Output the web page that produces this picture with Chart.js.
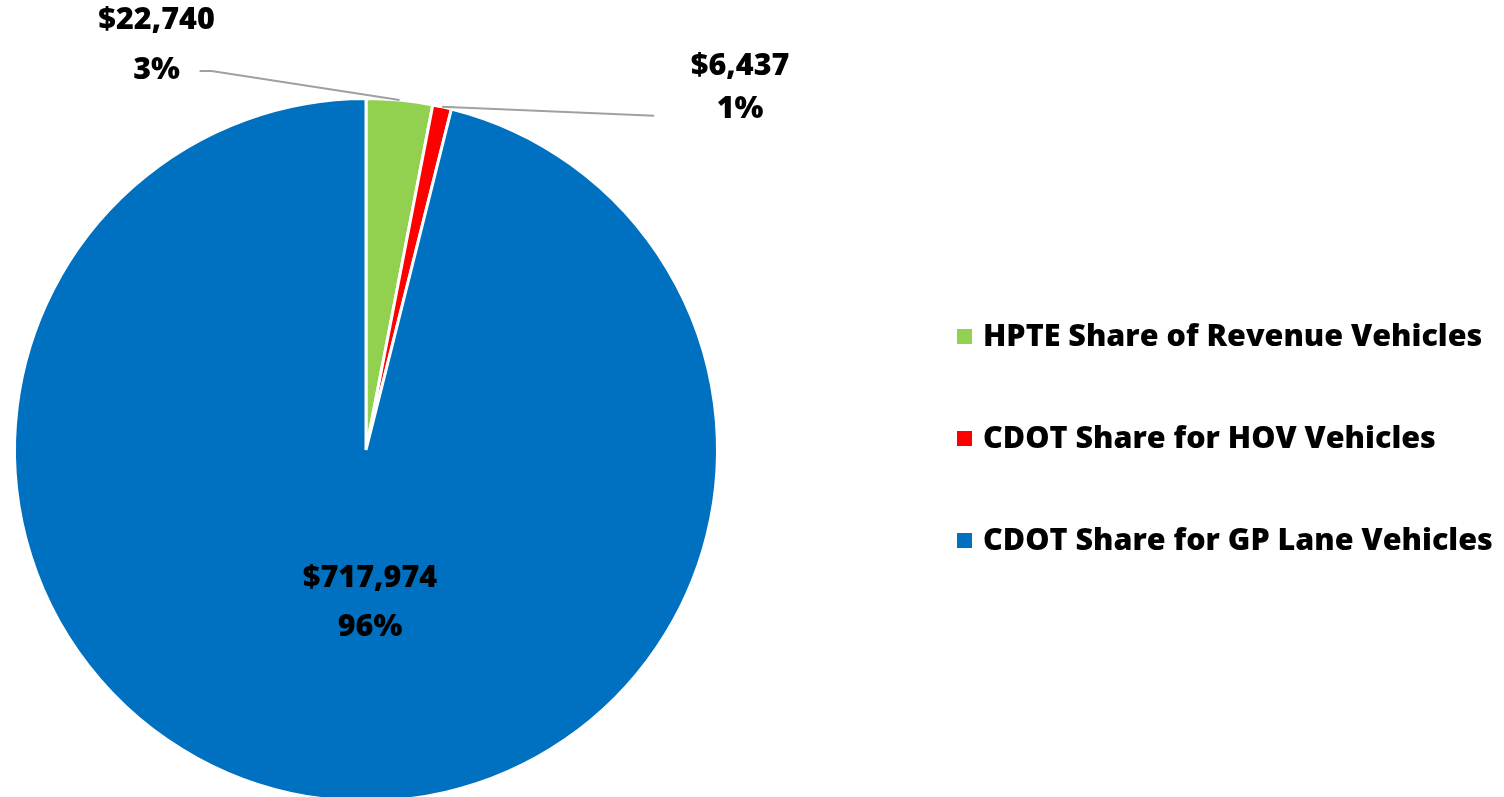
<!DOCTYPE html>
<html>
<head>
<meta charset="utf-8">
<script src="https://cdn.jsdelivr.net/npm/chart.js@4/dist/chart.umd.min.js"></script>
<style>
  html, body { margin: 0; padding: 0; background: #fff; overflow: hidden; }
  #wrap { position: absolute; left: 0; top: 0; width: 1504px; height: 900px; }
</style>
</head>
<body>
<div id="wrap"><canvas id="c" width="1504" height="900"></canvas></div>
<script>
const categories = ["HPTE Share of Revenue Vehicles", "CDOT Share for HOV Vehicles", "CDOT Share for GP Lane Vehicles"];
const values = [22740, 6437, 717974];
const colors = ["#92D050", "#FF0000", "#0070C0"];

const FONT = "800 30.5px 'Open Sans', sans-serif";

const labelPlugin = {
  id: 'labels',
  afterDraw(chart) {
    const ctx = chart.ctx;
    const meta = chart.getDatasetMeta(0);
    const total = values.reduce((a, b) => a + b, 0);
    ctx.save();
    ctx.font = FONT;
    ctx.fillStyle = '#000';
    ctx.textAlign = 'center';
    ctx.textBaseline = 'middle';
    // label placement (style only)
    const place = [
      { dx: -243, dy: -80, gap: 50, lineTo: [-200, -29], elbow: 12 },
      { dx: 298, dy: -41, gap: 43, lineTo: [212, 9], elbow: 0 }
    ];
    meta.data.forEach((arc, i) => {
      const { x, y, startAngle, endAngle, outerRadius } = arc.getProps(['x','y','startAngle','endAngle','outerRadius'], true);
      const mid = (startAngle + endAngle) / 2;
      const pct = Math.round(values[i] / total * 100) + '%';
      const money = '$' + values[i].toLocaleString('en-US');
      if (i < 2) {
        const ax = x + Math.cos(mid) * outerRadius;
        const ay = y + Math.sin(mid) * outerRadius;
        const p = place[i];
        ctx.strokeStyle = '#A0A0A0';
        ctx.lineWidth = 2;
        ctx.beginPath();
        ctx.moveTo(ax, ay);
        const ex = ax + p.lineTo[0], ey = ay + p.lineTo[1];
        if (p.elbow) {
          ctx.lineTo(ex + p.elbow, ey);
          ctx.lineTo(ex, ey);
        } else {
          ctx.lineTo(ex, ey);
        }
        ctx.stroke();
        const lx = ax + p.dx, ly = ay + p.dy;
        ctx.fillText(money, lx, ly);
        ctx.fillText(pct, lx, ly + p.gap);
      } else {
        const lx = x + 4, ly = y + 128;
        ctx.fillText(money, lx, ly);
        ctx.fillText(pct, lx, ly + 49);
      }
    });
    // legend
    const legendX = 957, rows = [337, 439, 541];
    categories.forEach((name, i) => {
      ctx.fillStyle = colors[i];
      ctx.fillRect(legendX, rows[i] - 8, 15, 15);
      ctx.fillStyle = '#000';
      ctx.textAlign = 'left';
      ctx.fillText(name, legendX + 26, rows[i]);
    });
    ctx.restore();
  }
};

new Chart(document.getElementById('c'), {
  type: 'pie',
  data: {
    labels: categories,
    datasets: [{
      data: values,
      backgroundColor: colors,
      borderColor: '#FFFFFF',
      borderWidth: 3
    }]
  },
  options: {
    responsive: false,
    animation: false,
    layout: { padding: { left: 13, top: 97, right: 785, bottom: 97 } },
    plugins: {
      legend: { display: false },
      tooltip: { enabled: false }
    }
  },
  plugins: [labelPlugin]
});
</script>
</body>
</html>
